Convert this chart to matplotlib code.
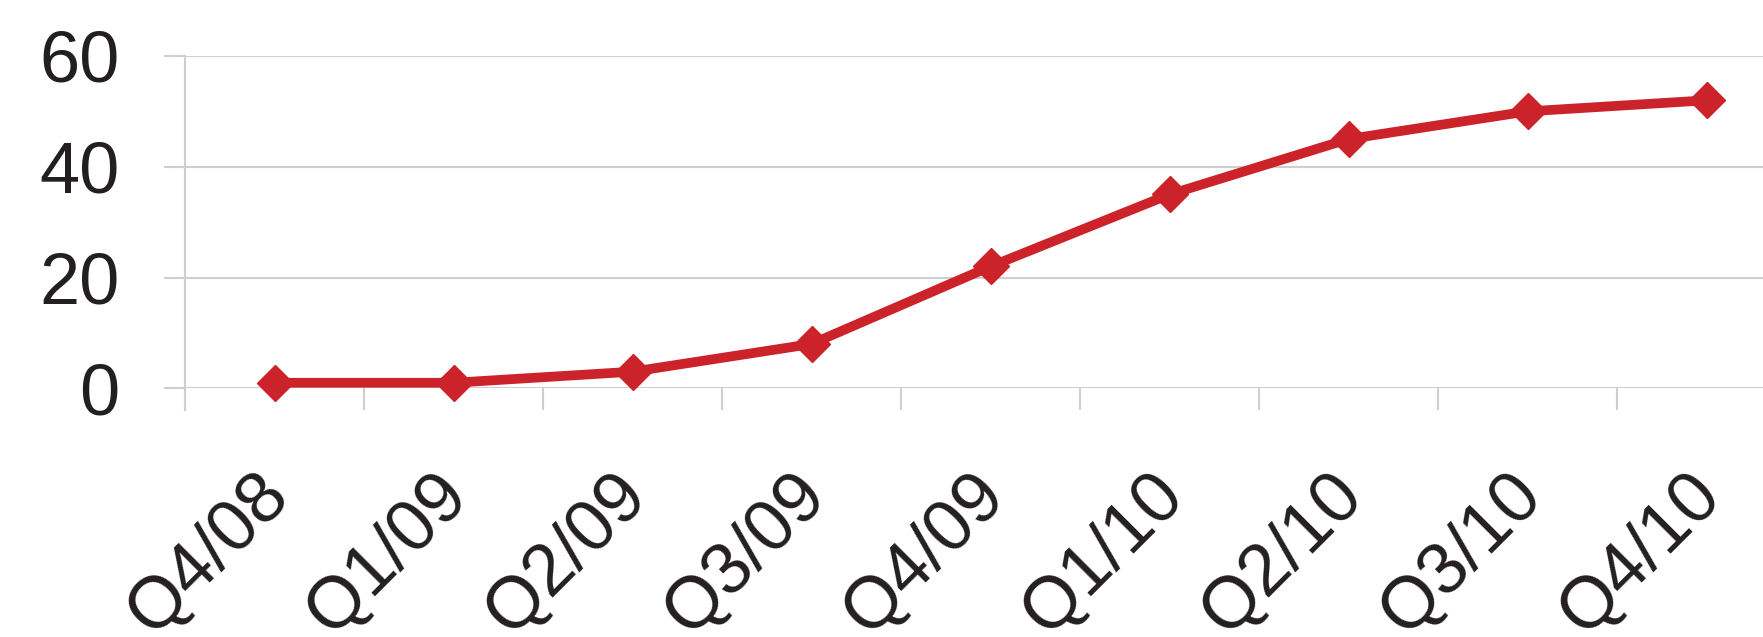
import matplotlib
matplotlib.use("Agg")
import matplotlib.pyplot as plt
from matplotlib.transforms import ScaledTranslation

categories = ["Q4/08", "Q1/09", "Q2/09", "Q3/09", "Q4/09", "Q1/10", "Q2/10", "Q3/10", "Q4/10"]
values = [1, 1, 3, 8, 22, 35, 45, 50, 52]
y_ticks = [0, 20, 40, 60]

plt.rcParams['font.family'] = ['Liberation Sans', 'DejaVu Sans']

W, H = 1763, 637
fig = plt.figure(figsize=(W / 100, H / 100), dpi=100)
left_px, right_px, bottom_px, top_px = 185, 185 + 9 * 179, 388.3, 56
ax = fig.add_axes([left_px / W, 1 - bottom_px / H, (right_px - left_px) / W, (bottom_px - top_px) / H])

x = list(range(len(categories)))
red = '#CC2229'
grid = '#CFCFCF'
ax.plot(x, values, color=red, lw=7, marker='D', markersize=18,
        markerfacecolor=red, markeredgecolor=red, markeredgewidth=1, clip_on=False, zorder=3)

ax.set_xlim(-0.5, len(categories) - 0.5)
ax.set_ylim(0, 60)
ax.set_yticks(y_ticks)
ax.set_yticklabels([str(v) for v in y_ticks])
ax.yaxis.grid(True, color=grid, lw=1.5)
ax.set_axisbelow(True)

for s in ['top', 'right', 'bottom']:
    ax.spines[s].set_visible(False)
ax.spines['left'].set_color(grid)
ax.spines['left'].set_linewidth(1.5)
ax.spines['left'].set_bounds(0, 60)

ax.tick_params(axis='y', length=15, width=1.5, color=grid, pad=32, labelsize=52, labelcolor='#231F20')

# boundary ticks (major, no labels) and category labels (minor)
ax.set_xticks([i - 0.5 for i in range(len(categories) + 1)])
ax.set_xticklabels([])
ax.set_xticks(x, minor=True)
ax.set_xticklabels(categories, minor=True, rotation=45, ha='right', va='top',
                   rotation_mode='anchor', fontsize=52, color='#231F20')
ax.tick_params(axis='x', which='major', length=16, width=1.5, color=grid, direction='out')
ax.tick_params(axis='x', which='minor', length=0, pad=0)
offset = ScaledTranslation(-20 / 100, -72 / 100, fig.dpi_scale_trans)
for lbl in ax.get_xticklabels(minor=True):
    lbl.set_transform(lbl.get_transform() + offset)

ax.plot([-0.5, -0.5], [0, -4], color=grid, lw=1.5, clip_on=False, zorder=0)

fig.savefig("out.png", dpi=100, facecolor='white')
